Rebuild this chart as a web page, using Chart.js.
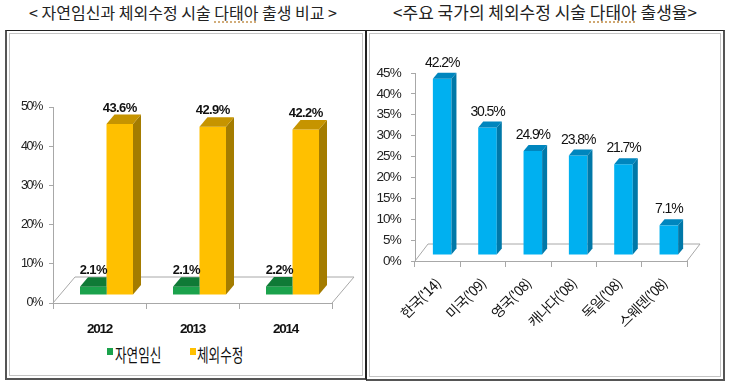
<!DOCTYPE html>
<html><head><meta charset="utf-8">
<script src="https://cdn.jsdelivr.net/npm/chart.js@4.4.0/dist/chart.umd.min.js"></script>
<style>
html,body{margin:0;padding:0;background:#fff;width:730px;height:385px;overflow:hidden;position:relative;}
.title{position:absolute;top:1px;font-family:'Noto Sans CJK KR',sans-serif;color:#222;white-space:nowrap;line-height:22px;text-align:center;}
.dt{text-decoration:underline dotted #c89a5a;text-underline-offset:3px;}
.box{position:absolute;box-sizing:border-box;border:1px solid #222;box-shadow:inset 0 0 0 2px #fff, inset 0 0 0 3px #c4c4c4;}
canvas{position:absolute;}
.sq{position:absolute;width:6px;height:7px;}
.lg{position:absolute;font-family:'Noto Sans CJK KR',sans-serif;font-size:18px;line-height:18px;color:#111;transform:scaleX(0.7);transform-origin:left center;white-space:nowrap;}
</style></head>
<body>
<div class="title" style="left:0;width:366px;font-size:16px;">&lt; 자연임신과 체외수정 시술 <span class="dt">다태아</span> 출생 비교 &gt;</div>
<div class="title" style="left:366px;width:358px;font-size:17px;">&lt;주요 국가의 체외수정 시술 <span class="dt">다태아</span> 출생율&gt;</div>
<div class="box" style="left:5px;top:30px;width:361px;height:350px;border-bottom:2px solid #555;border-left:2px solid #555;"></div>
<div class="box" style="left:366px;top:30px;width:359px;height:351px;border-bottom:2px solid #555;border-right:2px solid #555;"></div>
<div style="position:absolute;left:7px;top:33px;width:356px;height:307px;"><canvas id="c1"></canvas></div>
<div style="position:absolute;left:368px;top:33px;width:353px;height:344px;"><canvas id="c2"></canvas></div>
<div class="sq" style="left:107px;top:348px;background:#1BA24C;"></div>
<div class="lg" style="left:115px;top:345px;">자연임신</div>
<div class="sq" style="left:190px;top:348px;background:#FFC000;"></div>
<div class="lg" style="left:197px;top:345px;">체외수정</div>
<script>
// ---- data ----
const yearLabels = ['2012', '2013', '2014'];
const naturalValues = [2.1, 2.1, 2.2];
const ivfValues = [43.6, 42.9, 42.2];
const leftSeriesNames = ['자연임신', '체외수정'];
const leftTickMax = 50, leftTickStep = 10;

const countryLabels = ["한국('14)", "미국('09)", "영국('08)", "캐나다('08)", "독일('08)", "스웨덴('08)"];
const countryValues = [42.2, 30.5, 24.9, 23.8, 21.7, 7.1];
const rightTickMax = 45, rightTickStep = 5;

const SANS = "'Liberation Sans',sans-serif";
const KR = "'Noto Sans CJK KR',sans-serif";

const bar3d = {
  id: 'bar3d',
  beforeDraw(chart, args, o) {
    chart.ctx.letterSpacing = o.scaleSpacing || '0px';
  },
  beforeDatasetsDraw(chart, args, o) {
    const {ctx, chartArea: a} = chart;
    ctx.save();
    ctx.beginPath();
    ctx.moveTo(a.left, a.bottom);
    ctx.lineTo(a.left + o.floorX, a.bottom + o.floorY);
    ctx.lineTo(a.right + o.floorX, a.bottom + o.floorY);
    ctx.lineTo(a.right, a.bottom);
    ctx.strokeStyle = o.floorColor;
    ctx.lineWidth = 1;
    ctx.stroke();
    ctx.restore();
  },
  beforeDatasetDraw(chart, args, o) {
    chart.ctx.save();
    chart.ctx.translate(o.shiftX, o.shiftY);
  },
  afterDatasetDraw(chart, args, o) {
    const ctx = chart.ctx;
    const i = args.index;
    const ds = chart.data.datasets[i];
    ctx.save();
    const later = chart.data.datasets.map((d, k) => k).filter(k => k > i && chart.isDatasetVisible(k));
    if (later.length) {
      ctx.beginPath();
      ctx.rect(-2000, -2000, 6000, 6000);
      later.forEach(k => chart.getDatasetMeta(k).data.forEach(b => {
        const q = b.getProps(['x', 'y', 'base', 'width'], true);
        ctx.rect(q.x - q.width / 2, q.y, q.width, q.base - q.y);
      }));
      ctx.clip('evenodd');
    }
    args.meta.data.forEach(bar => {
      const p = bar.getProps(['x', 'y', 'base', 'width'], true);
      const l = p.x - p.width / 2, r = p.x + p.width / 2;
      const dx = o.depthX, dy = o.depthY;
      ctx.fillStyle = ds.sideColor;
      ctx.beginPath();
      ctx.moveTo(r, p.y); ctx.lineTo(r + dx, p.y + dy); ctx.lineTo(r + dx, p.base + dy); ctx.lineTo(r, p.base);
      ctx.closePath(); ctx.fill();
      ctx.fillStyle = ds.topColor;
      ctx.beginPath();
      ctx.moveTo(l, p.y); ctx.lineTo(l + dx, p.y + dy); ctx.lineTo(r + dx, p.y + dy); ctx.lineTo(r, p.y);
      ctx.closePath(); ctx.fill();
    });
    ctx.restore();
    ctx.restore();
  },
  afterDatasetsDraw(chart, args, o) {
    const ctx = chart.ctx;
    ctx.save();
    ctx.letterSpacing = o.labelSpacing || '0px';
    ctx.font = o.labelFont;
    ctx.fillStyle = o.labelColor;
    ctx.textAlign = 'center';
    ctx.textBaseline = 'alphabetic';
    chart.data.datasets.forEach((ds, i) => {
      chart.getDatasetMeta(i).data.forEach((bar, j) => {
        const p = bar.getProps(['x', 'y'], true);
        ctx.fillText(ds.data[j].toFixed(1) + '%', p.x + o.shiftX, p.y + o.shiftY + o.depthY - o.labelGap);
      });
    });
    ctx.restore();
  }
};

new Chart(document.getElementById('c1'), {
  type: 'bar',
  data: {
    labels: yearLabels,
    datasets: [
      {label: leftSeriesNames[0], data: naturalValues, backgroundColor: '#1BA24C', sideColor: '#137a38', topColor: '#0f7a36', clip: false},
      {label: leftSeriesNames[1], data: ivfValues, backgroundColor: '#FFC000', sideColor: '#A47C00', topColor: '#C69400', clip: false}
    ]
  },
  options: {
    responsive: true, maintainAspectRatio: false, animation: false,
    categoryPercentage: 0.57, barPercentage: 1.0,
    layout: {padding: {top: 74, right: 31, bottom: 0, left: 0}},
    plugins: {
      legend: {display: false}, tooltip: {enabled: false},
      bar3d: {floorX: 22, floorY: -26, floorColor: '#a8a8a8', shiftX: 7, shiftY: -8, depthX: 8, depthY: -9.5,
        scaleSpacing: '-1.3px', labelSpacing: '-0.6px',
        labelFont: "bold 13px " + SANS, labelColor: '#111', labelGap: 3}
    },
    scales: {
      x: {
        grid: {offset: true, drawOnChartArea: false, drawTicks: true, tickLength: 6, color: '#a8a8a8'},
        border: {display: true, color: '#a8a8a8'},
        ticks: {padding: 12, color: '#111', font: {family: SANS, size: 13.5, weight: 'bold'}},
        afterFit: s => { s.height = 37; }
      },
      y: {
        min: 0, max: leftTickMax,
        grid: {drawOnChartArea: false, drawTicks: true, tickLength: 4, color: '#a8a8a8'},
        border: {display: true, color: '#a8a8a8'},
        ticks: {stepSize: leftTickStep, padding: 7, color: '#222', font: {family: SANS, size: 12.5}, callback: v => v + '%'},
        afterFit: s => { s.width = 46; }
      }
    }
  },
  plugins: [bar3d]
});

new Chart(document.getElementById('c2'), {
  type: 'bar',
  data: {
    labels: countryLabels,
    datasets: [
      {label: '출생율', data: countryValues, backgroundColor: '#00B0F0', sideColor: '#0078A8', topColor: '#0086BE', clip: false}
    ]
  },
  options: {
    responsive: true, maintainAspectRatio: false, animation: false,
    categoryPercentage: 0.41, barPercentage: 1.0,
    layout: {padding: {top: 40, right: 34, bottom: 0, left: 0}},
    plugins: {
      legend: {display: false}, tooltip: {enabled: false},
      bar3d: {floorX: 13, floorY: -17, floorColor: '#a8a8a8', shiftX: 4.5, shiftY: -6, depthX: 5, depthY: -6,
        scaleSpacing: '-0.8px', labelSpacing: '-1.1px',
        labelFont: "14px " + SANS, labelColor: '#111', labelGap: 6}
    },
    scales: {
      x: {
        grid: {offset: true, drawOnChartArea: false, drawTicks: true, tickLength: 6, color: '#a8a8a8'},
        border: {display: true, color: '#a8a8a8'},
        ticks: {padding: 8, color: '#111', minRotation: 45, maxRotation: 45, autoSkip: false, font: {family: KR, size: 14}},
        afterFit: s => { s.height = 116; }
      },
      y: {
        min: 0, max: rightTickMax,
        grid: {drawOnChartArea: false, drawTicks: true, tickLength: 4, color: '#a8a8a8'},
        border: {display: true, color: '#a8a8a8'},
        ticks: {stepSize: rightTickStep, padding: 10, color: '#222', font: {family: SANS, size: 13.5}, callback: v => v + '%'},
        afterFit: s => { s.width = 47; }
      }
    }
  },
  plugins: [bar3d]
});
</script>
</body></html>
